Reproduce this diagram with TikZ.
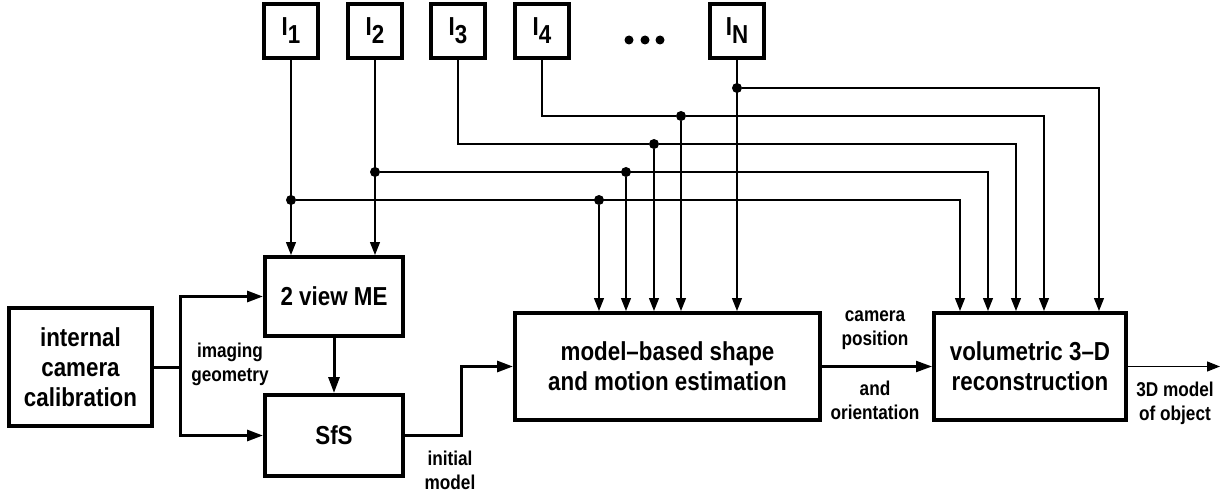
\documentclass[tikz,border=0pt]{standalone}
\usepackage{fontspec}
\setmainfont{Liberation Sans}[FakeStretch=0.86]
\usepackage{tikz}
\usetikzlibrary{arrows.meta}
\newcommand{\imgsub}[1]{\raisebox{-8pt}{#1}}

\begin{document}
\begin{tikzpicture}[x=1pt,y=-1pt,
                    box/.style={draw,line width=4pt,align=center,inner sep=0pt,
                                font=\bfseries\fontsize{26}{30}\selectfont},
                    img/.style={box,minimum width=54pt,minimum height=54pt},
                    dot/.style={circle,fill,inner sep=0pt,minimum size=10pt},
                    bus/.style={line width=1.3pt},
                    feed/.style={line width=3pt},
                    busarrow/.style={bus,-{Triangle[length=13pt,width=10pt]}},
                    feedarrow/.style={feed,-{Triangle[length=16pt,width=11pt]}},
                    lbl/.style={align=center,font=\bfseries\fontsize{20}{24}\selectfont}]
  \useasboundingbox (0,0) rectangle (1227,492);
  % image boxes
  \node[img] (i1) at (291,31) {I\imgsub{1}};
  \node[img] (i2) at (375,31) {I\imgsub{2}};
  \node[img] (i3) at (458,31) {I\imgsub{3}};
  \node[img] (i4) at (542,31) {I\imgsub{4}};
  \node[img] (iN) at (737,31) {I\imgsub{N}};
  \foreach \x in {629,645,660}
    \fill (\x,40) circle (4.5pt);
  % processing blocks
  \node[box,minimum width=143pt,minimum height=118pt] (calib) at (80.5,367)
    {internal\\camera\\calibration};
  \node[box,minimum width=138pt,minimum height=79pt] (me) at (334,296.5) {2 view ME};
  \node[box,minimum width=138pt,minimum height=81pt] (sfs) at (334,435.5) {SfS};
  \node[box,minimum width=305pt,minimum height=107pt] (mbs) at (667.5,366.5)
    {model--based shape\\and motion estimation};
  \node[box,minimum width=192pt,minimum height=107pt] (vol) at (1030,366.5)
    {volumetric 3--D\\reconstruction};
  % junctions
  \node[dot] (a1) at (291,200) {};
  \node[dot] (a2) at (599,200) {};
  \node[dot] (b1) at (375,172) {};
  \node[dot] (b2) at (626,172) {};
  \node[dot] (c1) at (654,144) {};
  \node[dot] (d1) at (681,116) {};
  \node[dot] (e1) at (737,88) {};
  % image distribution
  \draw[busarrow] (i1) -- (i1 |- me.north);
  \draw[busarrow] (i2) -- (i2 |- me.north);
  \draw[busarrow] (iN) -- (iN |- mbs.north);
  \draw[busarrow] (a1) -| ([xshift=-70pt]vol.north);
  \draw[busarrow] (a2) -- (a2 |- mbs.north);
  \draw[busarrow] (b1) -| ([xshift=-42pt]vol.north);
  \draw[busarrow] (b2) -- (b2 |- mbs.north);
  \draw[busarrow] (i3) |- (c1) -| ([xshift=-14pt]vol.north);
  \draw[busarrow] (c1) -- (c1 |- mbs.north);
  \draw[busarrow] (i4) |- (d1) -| ([xshift=14pt]vol.north);
  \draw[busarrow] (d1) -- (d1 |- mbs.north);
  \draw[busarrow] (e1) -| ([xshift=69pt]vol.north);
  % main flow
  \coordinate (split) at (180,367);
  \draw[feed] (calib) -- (split);
  \draw[feedarrow] (split) |- (me);
  \draw[feedarrow] (split) |- (sfs);
  \draw[feedarrow] (me) -- (sfs);
  \draw[feedarrow] (sfs.east) -- ++(56,0) |- (mbs);
  \draw[feedarrow,line width=2.2pt] (mbs) -- (vol);
  \coordinate (out) at (1220,366.5);
  \draw[busarrow] (vol) -- (out);
  % labels
  \node[lbl] (geom) at (230,364) {imaging\\geometry};
  \node[lbl] (init) at (450,470) {initial\\model};
  \node[lbl] (campos) at (875,330) {camera\\position};
  \node[lbl] (orient) at (875,400) {and\\orientation};
  \node[lbl] (obj) at (1175,403) {3D model\\of object};
\end{tikzpicture}
\end{document}
